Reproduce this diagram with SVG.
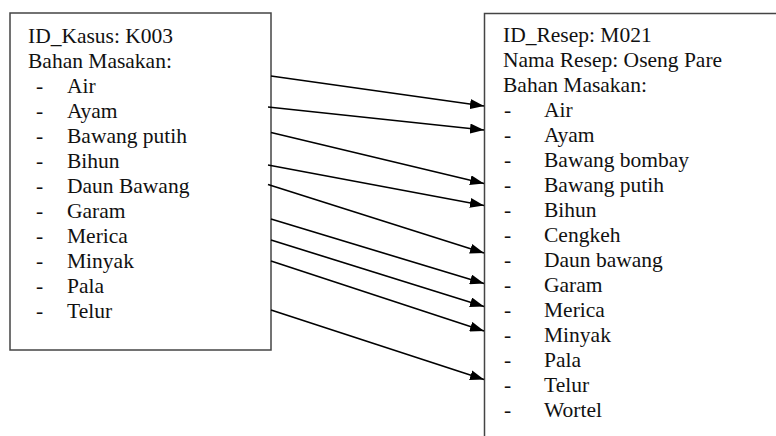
<svg xmlns="http://www.w3.org/2000/svg" width="776" height="436" viewBox="0 0 776 436">
<style>
text{font-family:"Liberation Serif","Times New Roman",serif;font-size:21.5px;fill:#111}
.box{fill:#fff;stroke:#444;stroke-width:1.5}
.conn line{stroke:#000;stroke-width:1.6;marker-end:url(#ah)}
</style>
<defs>
<marker id="ah" markerUnits="userSpaceOnUse" markerWidth="14" markerHeight="10" refX="14" refY="5" orient="auto">
<path d="M0,0 L14,5 L0,10 z" fill="#000"/>
</marker>
</defs>
<rect width="776" height="436" fill="#fff"/>
<g id="kasus">
<rect class="box" x="10" y="13" width="261" height="337"/>
<text x="28" y="42.5">ID_Kasus: K003</text>
<text x="28" y="67.5">Bahan Masakan:</text>
<g>
<text x="36" y="92.5">-</text><text x="67" y="92.5">Air</text>
<text x="36" y="117.5">-</text><text x="67" y="117.5">Ayam</text>
<text x="36" y="142.5">-</text><text x="67" y="142.5">Bawang putih</text>
<text x="36" y="167.5">-</text><text x="67" y="167.5">Bihun</text>
<text x="36" y="192.5">-</text><text x="67" y="192.5">Daun Bawang</text>
<text x="36" y="217.5">-</text><text x="67" y="217.5">Garam</text>
<text x="36" y="242.5">-</text><text x="67" y="242.5">Merica</text>
<text x="36" y="267.5">-</text><text x="67" y="267.5">Minyak</text>
<text x="36" y="292.5">-</text><text x="67" y="292.5">Pala</text>
<text x="36" y="317.5">-</text><text x="67" y="317.5">Telur</text>
</g>
</g>
<g id="resep">
<path class="box" d="M484.5,437 V13.5 H777 V437 Z"/>
<text x="503" y="42">ID_Resep: M021</text>
<text x="503" y="67">Nama Resep: Oseng Pare</text>
<text x="503" y="92">Bahan Masakan:</text>
<g>
<text x="504" y="117">-</text><text x="544" y="117">Air</text>
<text x="504" y="142">-</text><text x="544" y="142">Ayam</text>
<text x="504" y="167">-</text><text x="544" y="167">Bawang bombay</text>
<text x="504" y="192">-</text><text x="544" y="192">Bawang putih</text>
<text x="504" y="217">-</text><text x="544" y="217">Bihun</text>
<text x="504" y="242">-</text><text x="544" y="242">Cengkeh</text>
<text x="504" y="267">-</text><text x="544" y="267">Daun bawang</text>
<text x="504" y="292">-</text><text x="544" y="292">Garam</text>
<text x="504" y="317">-</text><text x="544" y="317">Merica</text>
<text x="504" y="342">-</text><text x="544" y="342">Minyak</text>
<text x="504" y="367">-</text><text x="544" y="367">Pala</text>
<text x="504" y="392">-</text><text x="544" y="392">Telur</text>
<text x="504" y="417">-</text><text x="544" y="417">Wortel</text>
</g>
</g>
<g id="connectors" class="conn">
<line x1="271" y1="76" x2="484" y2="106"/>
<line x1="268" y1="107" x2="484" y2="130"/>
<line x1="271" y1="132.5" x2="484" y2="183.5"/>
<line x1="268" y1="165" x2="484" y2="205.5"/>
<line x1="268" y1="184.5" x2="484" y2="253"/>
<line x1="271" y1="219" x2="484" y2="283.5"/>
<line x1="271" y1="240" x2="484" y2="306.5"/>
<line x1="271" y1="261" x2="484" y2="331"/>
<line x1="271" y1="310" x2="484" y2="379.5"/>
</g>
</svg>
